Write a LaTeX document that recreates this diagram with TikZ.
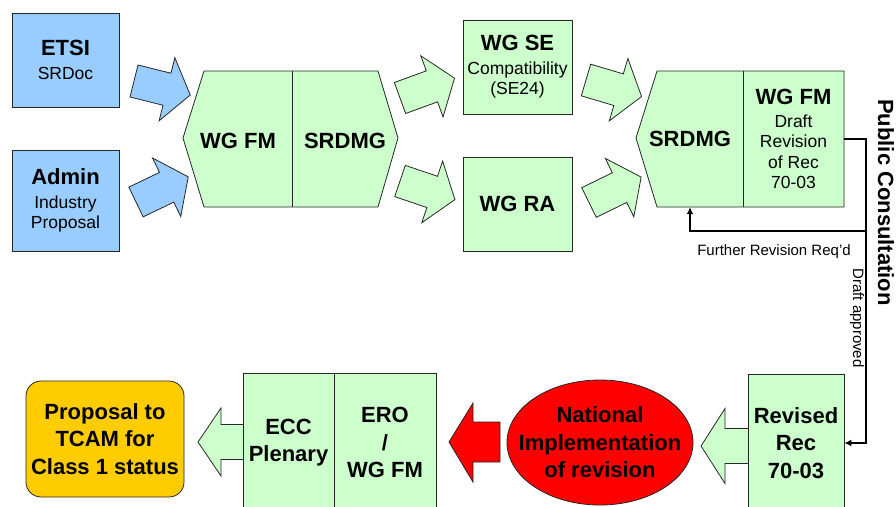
\documentclass[tikz,border=0pt]{standalone}
\usepackage{fontspec}
\setmainfont{Liberation Sans}
\usetikzlibrary{arrows.meta,calc}

\definecolor{boxblue}{HTML}{99CCFF}
\definecolor{boxgreen}{HTML}{CCFFCC}
\definecolor{natred}{HTML}{FF0000}
\definecolor{tcamorange}{HTML}{FFCC00}

% bold heading inside a box
\newcommand{\hd}[1]{{\fontsize{22}{26}\selectfont\bfseries #1}}
% fat arrow: style, tail point, angle
\newcommand{\blockarrow}[3]{%
	\begin{scope}[shift={#2}, rotate=#3]
		\draw[#1] (0,-16.5) -- (34,-16.5) -- (34,-32.5) -- (58,0) -- (34,32.5) -- (34,16.5) -- (0,16.5) -- cycle;
	\end{scope}}

\begin{document}
\begin{tikzpicture}[x=1pt, y=-1pt,
	outline/.style={draw=black!85, line width=0.8pt},
	bluebox/.style={outline, fill=boxblue},
	greenbox/.style={outline, fill=boxgreen},
	plaintext/.style={font=\fontsize{17.5}{20.5}\selectfont, align=center, inner sep=0pt, text=black},
	boldtext/.style={font=\fontsize{22}{27.5}\selectfont\bfseries, align=center, inner sep=0pt, text=black},
	smalltext/.style={font=\fontsize{15}{18}\selectfont, inner sep=0pt},
	flowline/.style={line width=1.6pt},
	flow/.style={flowline, -{Latex[length=7pt,width=7pt]}}]

	% Page size
	\useasboundingbox (0,0) rectangle (896,506);
	\clip (0,0) rectangle (896,506);

	% Sources
	\node[bluebox, plaintext, minimum width=107pt, minimum height=94pt] (etsi) at (65.5,60) {\hd{ETSI}\\[3pt]SRDoc};
	\node[bluebox, plaintext, minimum width=107pt, minimum height=101pt] (admin) at (65.5,200.5) {\hd{Admin}\\[3pt]Industry\\Proposal};

	% Fat arrows into first block
	\blockarrow{bluebox}{(134,81)}{-14}
	\blockarrow{bluebox}{(136,202)}{25.7}

	% First block: WG FM | SRDMG
	\draw[greenbox] (183,138) -- (204,71) -- (378,71) -- (398,138) -- (378,207) -- (204,207) -- cycle;
	\draw[outline] (292,71) -- (292,207);
	\node[boldtext] (fmA) at (238,140.5) {WG FM};
	\node[boldtext] (srdmgA) at (345,140.5) {SRDMG};

	% Fat arrows out of first block
	\blockarrow{greenbox}{(400,98)}{20}
	\blockarrow{greenbox}{(400,181)}{-18.7}

	% Working groups
	\node[greenbox, plaintext, minimum width=109pt, minimum height=94pt] (wgse) at (517.5,67) {\hd{WG SE}\\[3pt]Compatibility\\(SE24)};
	\node[greenbox, boldtext, minimum width=109pt, minimum height=94pt] (wgra) at (517.5,204) {WG RA};

	% Fat arrows into second block
	\blockarrow{greenbox}{(586,80)}{-16.6}
	\blockarrow{greenbox}{(589,202.5)}{26}

	% Second block: SRDMG | WG FM draft
	\draw[greenbox] (636,138) -- (657,71) -- (844,71) -- (844,207) -- (657,207) -- cycle;
	\draw[outline] (743,71) -- (743,207);
	\node[boldtext, minimum width=106pt, minimum height=136pt] (srdmgB) at (690,139) {SRDMG};
	\node[plaintext, minimum width=101pt, minimum height=136pt] (fmdraft) at (793.5,139) {\hd{WG FM}\\[2.5pt]Draft\\Revision\\of Rec\\70-03};

	% Bottom row
	\draw[greenbox] (750,428.5) -- (725,428.5) -- (725,408.5) -- (701,446) -- (725,483.5) -- (725,463.5) -- (750,463.5) -- cycle;
	\node[greenbox, boldtext, minimum width=96pt, minimum height=138pt] (revised) at (796,443) {Revised\\Rec\\70-03};

	\coordinate (natc) at (600,442.5);
	\draw[outline, fill=natred] (natc) ellipse [x radius=93, y radius=62.5];
	\node[boldtext] (natimpl) at (natc) {National\\Implementation\\of revision};
	\draw[outline, fill=natred] (500,422) -- (473,422) -- (473,403) -- (449,442) -- (473,482) -- (473,462) -- (500,462) -- cycle;

	\draw[greenbox] (245,424.5) -- (221,424.5) -- (221,408) -- (198,442) -- (221,476) -- (221,459.5) -- (245,459.5) -- cycle;
	\node[greenbox, boldtext, minimum width=91pt, minimum height=139pt] (ecc) at (288.5,442.5) {ECC\\Plenary};
	\node[greenbox, boldtext, minimum width=102pt, minimum height=139pt] (ero) at (385,442.5) {ERO\\/\\WG FM};

	\node[outline, fill=tcamorange, rounded corners=15pt, boldtext, minimum width=158pt, minimum height=116pt] (tcam) at (105,439) {Proposal to\\TCAM for\\Class 1 status};

	% Public consultation loop
	\coordinate (pc) at (866,139);
	\coordinate (fb) at (866,231);
	\draw[flowline] (fmdraft.east) -- (pc) -- (fb);
	\draw[flow] (fb) -| (srdmgB.south);
	\draw[flow] (fb) |- (revised.east);

	\node[smalltext, anchor=base] (furtherlbl) at (774,255) {Further Revision Req'd};
	\node[smalltext, rotate=-90] (approvedlbl) at (857,318) {Draft approved};
	\node[boldtext, rotate=-90] (publiclbl) at (886,202.5) {Public Consultation};

\end{tikzpicture}
\end{document}
